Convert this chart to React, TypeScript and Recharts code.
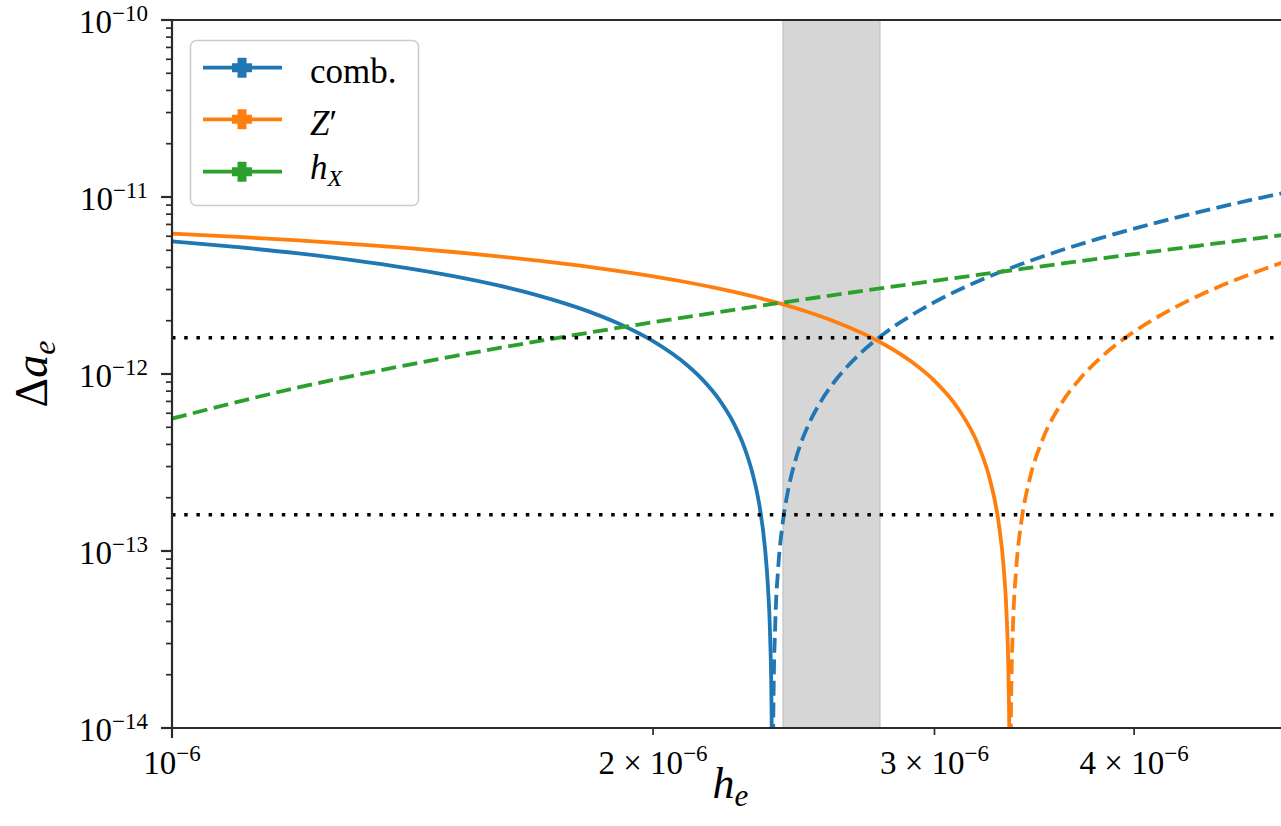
import React from "react";
import {
  LineChart,
  Line,
  XAxis,
  YAxis,
  ReferenceLine,
  ReferenceArea,
} from "recharts";

// h_e in units of 1e-6, Δa_e in units of 1e-12
const H_UNIT = 1e-6;
const A_UNIT = 1e-12;

// comb., positive branch (solid)
const combPosH = [1.0, 1.1, 1.2, 1.3, 1.4, 1.5, 1.6, 1.7, 1.8, 1.9, 2.0, 2.1, 2.15, 2.2, 2.25, 2.28, 2.31, 2.33, 2.35, 2.36, 2.367, 2.372, 2.3745, 2.3755];
const combPosVal = [5.612, 5.204, 4.796, 4.388, 3.98, 3.572, 3.164, 2.756, 2.348, 1.94, 1.532, 1.124, 0.92, 0.716, 0.512, 0.39, 0.267, 0.186, 0.104, 0.063, 0.035, 0.014, 0.0041, 0.0004];

// comb., negative branch, |Δa_e| (dashed)
const combNegH = [2.3755, 2.3765, 2.379, 2.385, 2.395, 2.41, 2.43, 2.46, 2.5, 2.55, 2.6, 2.7, 2.8, 2.9, 3.0, 3.2, 3.4, 3.6, 3.8, 4.0, 4.25, 4.5, 4.75, 5.0];
const combNegVal = [0.0004, 0.0041, 0.0143, 0.0388, 0.0796, 0.141, 0.222, 0.345, 0.508, 0.712, 0.916, 1.324, 1.732, 2.14, 2.548, 3.364, 4.18, 4.998, 5.814, 6.63, 7.65, 8.67, 9.69, 10.71];

// Z', positive branch (solid)
const zpPosH = [1.0, 1.1, 1.2, 1.3, 1.4, 1.5, 1.6, 1.7, 1.8, 1.9, 2.0, 2.1, 2.2, 2.3, 2.4, 2.5, 2.6, 2.7, 2.8, 2.9, 3.0, 3.1, 3.2, 3.25, 3.29, 3.315, 3.33, 3.338, 3.3425, 3.345];
const zpPosVal = [6.214, 5.949, 5.684, 5.419, 5.154, 4.889, 4.624, 4.359, 4.094, 3.829, 3.564, 3.299, 3.034, 2.769, 2.504, 2.239, 1.974, 1.709, 1.444, 1.179, 0.914, 0.649, 0.384, 0.252, 0.146, 0.0795, 0.0398, 0.0186, 0.0066, 0.0004];

// Z', negative branch, |Δa_e| (dashed)
const zpNegH = [3.345, 3.3475, 3.352, 3.36, 3.375, 3.4, 3.44, 3.5, 3.6, 3.7, 3.8, 3.9, 4.0, 4.2, 4.4, 4.6, 4.8, 5.0];
const zpNegVal = [0.0004, 0.0066, 0.0186, 0.0398, 0.0795, 0.146, 0.252, 0.411, 0.676, 0.941, 1.206, 1.471, 1.736, 2.266, 2.796, 3.326, 3.856, 4.386];

// h_X (dashed)
const hxH = [1.0, 1.2, 1.4, 1.6, 1.8, 2.0, 2.2, 2.4, 2.6, 2.8, 3.0, 3.2, 3.4, 3.6, 3.8, 4.0, 4.2, 4.4, 4.6, 4.8, 5.0];
const hxVal = [0.56, 0.84, 1.12, 1.4, 1.68, 1.96, 2.24, 2.52, 2.8, 3.08, 3.36, 3.64, 3.92, 4.2, 4.48, 4.76, 5.04, 5.32, 5.6, 5.88, 6.16];

// horizontal limits and the shaded h_e window
const limitValues = [1.6e-12, 1.6e-13];
const bandRange = [2.412e-6, 2.773e-6];

const xDomain = [1e-6, 5e-6];
const yDomain = [1e-14, 1e-10];

const xTicks = [1e-6, 2e-6, 3e-6, 4e-6];
const xTickMantissa = ["10", "2 × 10", "3 × 10", "4 × 10"];
const xTickExp = ["−6", "−6", "−6", "−6"];

const yMajorTicks = [1e-14, 1e-13, 1e-12, 1e-11, 1e-10];
const yTickExp = ["−14", "−13", "−12", "−11", "−10"];
const yMinorMult = [2, 3, 4, 5, 6, 7, 8, 9];

const yTicks = [
  ...yMajorTicks,
  ...yMajorTicks.slice(0, -1).flatMap((d) => yMinorMult.map((m) => m * d)),
].sort((a, b) => a - b);

const toPoints = (hs: number[], vals: number[]) =>
  hs.map((h, i) => ({ h: h * H_UNIT, a: vals[i] * A_UNIT }));

const combPos = toPoints(combPosH, combPosVal);
const combNeg = toPoints(combNegH, combNegVal);
const zpPos = toPoints(zpPosH, zpPosVal);
const zpNeg = toPoints(zpNegH, zpNegVal);
const hx = toPoints(hxH, hxVal);

const BLUE = "#1f77b4";
const ORANGE = "#ff7f0e";
const GREEN = "#2ca02c";
const SPINE = "#2b2b2b";
const FONT = "'Liberation Serif', 'DejaVu Serif', serif";
const DASH = "15 6.5";
const LW = 3.8;

const sameValue = (a: number, b: number) =>
  Math.abs(Math.log10(a) - Math.log10(b)) < 1e-6;

const renderYTick = (props: any) => {
  const { x, y, payload } = props;
  const idx = yMajorTicks.findIndex((t) => sameValue(t, payload.value));
  const major = idx >= 0;
  return (
    <g>
      <line
        x1={x - (major ? 11 : 6)}
        x2={x}
        y1={y}
        y2={y}
        stroke={SPINE}
        strokeWidth={major ? 2.2 : 1.7}
      />
      {major && (
        <text
          x={x - 24}
          y={y + 12.5}
          textAnchor="end"
          fontFamily={FONT}
          fontSize={33}
          fill="#000"
        >
          <tspan>10</tspan>
          <tspan dy={-12} fontSize={23}>
            {yTickExp[idx]}
          </tspan>
        </text>
      )}
    </g>
  );
};

const renderXTick = (props: any) => {
  const { x, y, payload } = props;
  const idx = xTicks.findIndex((t) => sameValue(t, payload.value));
  if (idx < 0) return <g />;
  const major = idx === 0;
  return (
    <g>
      <line
        x1={x}
        x2={x}
        y1={y}
        y2={y + (major ? 10 : 7)}
        stroke={SPINE}
        strokeWidth={major ? 2.2 : 1.7}
      />
      <text
        x={x}
        y={y + 46}
        textAnchor="middle"
        fontFamily={FONT}
        fontSize={33}
        fill="#000"
      >
        <tspan>{xTickMantissa[idx]}</tspan>
        <tspan dy={-13} fontSize={23}>
          {xTickExp[idx]}
        </tspan>
      </text>
    </g>
  );
};

const renderXLabel = (props: any) => {
  const vb = props.viewBox;
  return (
    <text
      x={vb.x + vb.width / 2}
      y={vb.y + 70}
      textAnchor="middle"
      fontFamily={FONT}
      fontSize={44}
      fill="#000"
    >
      <tspan fontStyle="italic">h</tspan>
      <tspan fontStyle="italic" fontSize={31} dy={8}>
        e
      </tspan>
    </text>
  );
};

const renderYLabel = (props: any) => {
  const vb = props.viewBox;
  const cx = vb.x + 47;
  const cy = vb.y + vb.height / 2;
  return (
    <text
      transform={`translate(${cx},${cy}) rotate(-90)`}
      textAnchor="middle"
      fontFamily={FONT}
      fontSize={46}
      fill="#000"
    >
      <tspan>Δ</tspan>
      <tspan fontStyle="italic">a</tspan>
      <tspan fontStyle="italic" fontSize={32} dy={8}>
        e
      </tspan>
    </text>
  );
};

// filled "plus" marker used in the legend handles
const plusPath = (cx: number, cy: number, s = 10, t = 4.5) =>
  `M${cx - t},${cy - s}H${cx + t}V${cy - t}H${cx + s}V${cy + t}H${cx + t}` +
  `V${cy + s}H${cx - t}V${cy + t}H${cx - s}V${cy - t}H${cx - t}Z`;

const legendRows = [
  { color: BLUE, y: 67.7 },
  { color: ORANGE, y: 119.3 },
  { color: GREEN, y: 171.7 },
];

function LegendBox() {
  return (
    <svg
      width={1281}
      height={826}
      style={{ position: "absolute", left: 0, top: 0, pointerEvents: "none" }}
    >
      <rect
        x={190.5}
        y={40.5}
        width={228}
        height={165}
        rx={6}
        fill="#fff"
        fillOpacity={0.85}
        stroke="#cccccc"
        strokeWidth={1.5}
      />
      {legendRows.map((r) => (
        <g key={r.color}>
          <line x1={203} x2={282} y1={r.y} y2={r.y} stroke={r.color} strokeWidth={LW} />
          <path d={plusPath(242, r.y)} fill={r.color} />
        </g>
      ))}
      <g fontFamily={FONT} fontSize={35} fill="#000">
        <text x={310} y={83.3}>comb.</text>
        <text x={310} y={135}>
          <tspan fontStyle="italic">Z</tspan>
          <tspan>′</tspan>
        </text>
        <text x={310} y={179.3}>
          <tspan fontStyle="italic">h</tspan>
          <tspan fontStyle="italic" fontSize={24} dy={7}>
            X
          </tspan>
        </text>
      </g>
    </svg>
  );
}

export default function App() {
  return (
    <div
      style={{
        position: "absolute",
        left: 0,
        top: 0,
        width: 1281,
        height: 826,
        overflow: "hidden",
        background: "#fff",
      }}
    >
      <LineChart
        width={1300}
        height={826}
        margin={{ top: 20, right: 11, bottom: 0, left: 0 }}
      >
        <XAxis
          dataKey="h"
          type="number"
          scale="log"
          domain={xDomain}
          allowDataOverflow
          ticks={xTicks}
          interval={0}
          tickSize={0}
          tickMargin={0}
          tickLine={false}
          tick={renderXTick}
          height={98}
          axisLine={{ stroke: SPINE, strokeWidth: 2.2 }}
          label={renderXLabel}
        />
        <YAxis
          dataKey="a"
          type="number"
          scale="log"
          domain={yDomain}
          allowDataOverflow
          ticks={yTicks}
          interval={0}
          tickSize={0}
          tickMargin={0}
          tickLine={false}
          tick={renderYTick}
          width={172}
          axisLine={{ stroke: SPINE, strokeWidth: 2.2 }}
          label={renderYLabel}
        />

        <ReferenceArea
          x1={bandRange[0]}
          x2={bandRange[1]}
          y1={yDomain[0]}
          y2={yDomain[1]}
          fill="#d6d6d6"
          fillOpacity={1}
          stroke="#c8c8c8"
          strokeWidth={1.5}
        />

        <Line data={combPos} dataKey="a" type="monotone" stroke={BLUE} strokeWidth={LW} dot={false} isAnimationActive={false} />
        <Line data={combNeg} dataKey="a" type="monotone" stroke={BLUE} strokeWidth={LW} strokeDasharray={DASH} dot={false} isAnimationActive={false} />
        <Line data={zpPos} dataKey="a" type="monotone" stroke={ORANGE} strokeWidth={LW} dot={false} isAnimationActive={false} />
        <Line data={zpNeg} dataKey="a" type="monotone" stroke={ORANGE} strokeWidth={LW} strokeDasharray={DASH} dot={false} isAnimationActive={false} />
        <Line data={hx} dataKey="a" type="monotone" stroke={GREEN} strokeWidth={LW} strokeDasharray={DASH} dot={false} isAnimationActive={false} />

        {limitValues.map((v) => (
          <ReferenceLine
            key={v}
            y={v}
            stroke="#000"
            strokeWidth={3.5}
            strokeDasharray="3.5 8.7"
          />
        ))}

        {/* top spine */}
        <ReferenceLine y={yDomain[1]} stroke={SPINE} strokeWidth={2.2} />
      </LineChart>
      <LegendBox />
    </div>
  );
}
